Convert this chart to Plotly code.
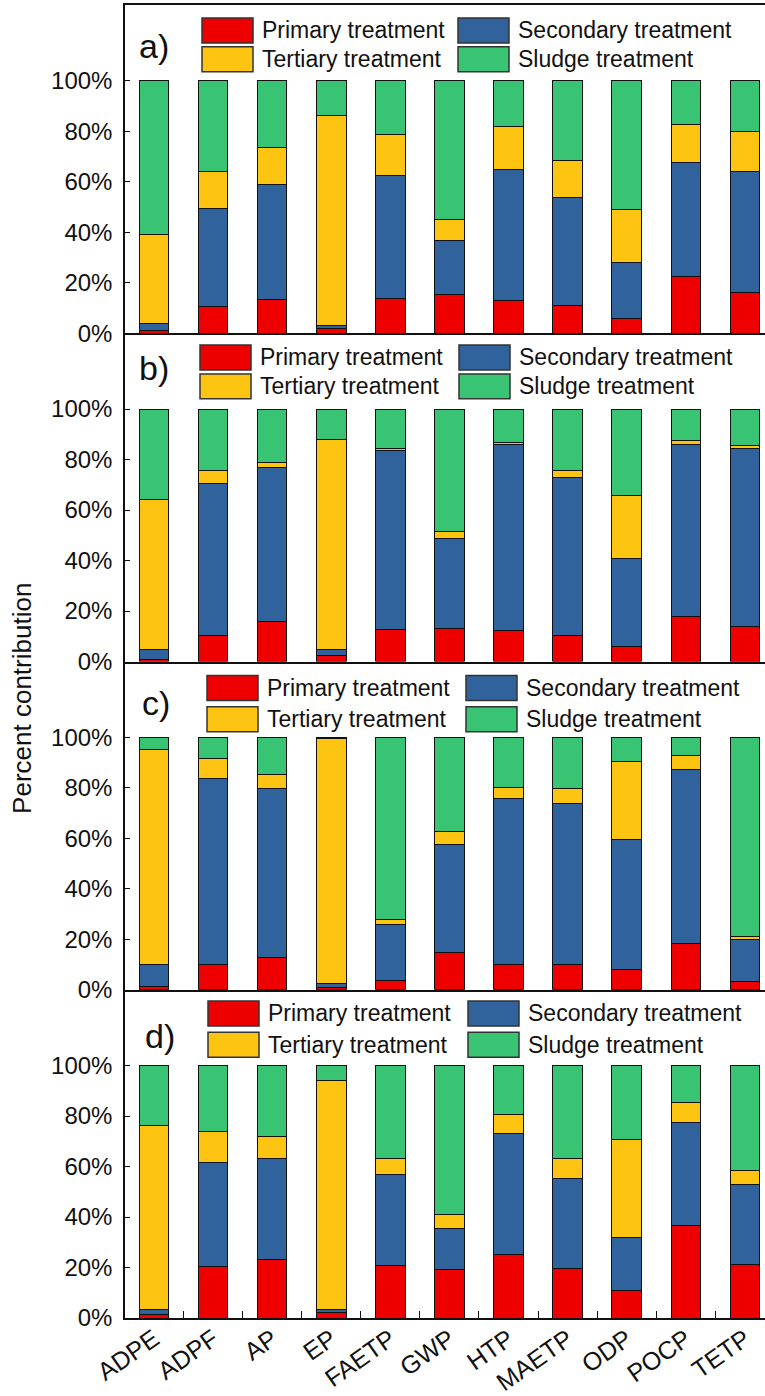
import plotly.graph_objects as go

# ---------------- data ----------------
categories = ["ADPE", "ADPF", "AP", "EP", "FAETP", "GWP", "HTP", "MAETP", "ODP", "POCP", "TETP"]
series_names = ["Primary treatment", "Secondary treatment", "Tertiary treatment", "Sludge treatment"]
panel_labels = ["a)", "b)", "c)", "d)"]
y_ticks = [0, 20, 40, 60, 80, 100]
y_ticktext = ["0%", "20%", "40%", "60%", "80%", "100%"]

# percent contribution of each stage
primary_a   = [0.9, 10.7, 13.3, 2.0, 13.6, 15.4, 12.8, 11.1, 5.9, 22.5, 16.2]
secondary_a = [2.8, 38.9, 45.5, 1.0, 49.0, 21.4, 52.2, 42.6, 22.3, 45.0, 48.0]
tertiary_a  = [35.5, 14.5, 14.9, 83.3, 16.0, 8.2, 16.7, 14.6, 20.7, 15.0, 15.8]
sludge_a    = [60.8, 35.9, 26.3, 13.7, 21.4, 55.0, 18.3, 31.7, 51.1, 17.5, 20.0]

primary_b   = [0.7, 10.4, 15.7, 2.4, 12.6, 13.0, 12.3, 10.4, 5.9, 18.0, 14.0]
secondary_b = [4.2, 60.0, 61.0, 2.2, 70.9, 35.6, 73.5, 62.5, 34.8, 67.8, 70.2]
tertiary_b  = [59.4, 5.4, 2.2, 83.4, 1.0, 2.9, 0.8, 2.6, 25.2, 1.7, 1.4]
sludge_b    = [35.7, 24.2, 21.1, 12.0, 15.5, 48.5, 13.4, 24.5, 34.1, 12.5, 14.4]

primary_c   = [1.3, 10.1, 12.8, 0.9, 3.7, 14.8, 10.0, 10.1, 7.9, 18.3, 3.3]
secondary_c = [8.8, 73.6, 67.0, 1.6, 22.3, 42.6, 65.6, 63.8, 51.7, 68.8, 16.5]
tertiary_c  = [84.9, 7.9, 5.6, 97.0, 1.7, 5.1, 4.5, 5.8, 30.8, 5.5, 1.3]
sludge_c    = [5.0, 8.4, 14.6, 0.5, 72.3, 37.5, 19.9, 20.3, 9.6, 7.4, 78.9]

primary_d   = [1.3, 20.4, 23.3, 2.2, 20.7, 19.1, 25.3, 19.6, 10.9, 36.5, 21.1]
secondary_d = [2.0, 41.3, 39.8, 1.1, 36.3, 16.3, 47.7, 35.5, 20.9, 41.1, 31.6]
tertiary_d  = [73.0, 12.2, 8.8, 90.8, 6.0, 5.4, 7.6, 7.9, 38.7, 7.9, 5.8]
sludge_d    = [23.7, 26.1, 28.1, 5.9, 37.0, 59.2, 19.4, 37.0, 29.5, 14.5, 41.5]

panels = [
    [primary_a, secondary_a, tertiary_a, sludge_a],
    [primary_b, secondary_b, tertiary_b, sludge_b],
    [primary_c, secondary_c, tertiary_c, sludge_c],
    [primary_d, secondary_d, tertiary_d, sludge_d],
]

# ---------------- style ----------------
colors = ["#EE0000", "#30629B", "#FDC511", "#38C472"]
FONT = "Liberation Sans, Arial, sans-serif"
W, H = 765, 1396
ML, MR, MT, MB = 125, 0, 5, 74
PW, PH = W - ML - MR, H - MT - MB

def px_x(px):
    return (px - ML) / PW

def px_y(py):
    return (H - MB - py) / PH

fig = go.Figure()

domains = [[0.75, 1.0], [0.5, 0.75], [0.25, 0.5], [0.0, 0.25]]

for p, vals in enumerate(panels):
    suffix = "" if p == 0 else str(p + 1)
    for s, (name, v) in enumerate(zip(series_names, vals)):
        fig.add_trace(go.Bar(
            x=categories, y=v, name=name,
            marker=dict(color=colors[s], line=dict(color="#111111", width=1)),
            width=0.5, showlegend=False,
            xaxis="x" + suffix, yaxis="y" + suffix,
        ))

layout = dict(
    width=W, height=H, barmode="stack",
    margin=dict(l=ML, r=MR, t=MT, b=MB),
    plot_bgcolor="white", paper_bgcolor="white",
    font=dict(family=FONT, size=24, color="#111111"),
)

for p in range(4):
    suffix = "" if p == 0 else str(p + 1)
    last = p == 3
    layout["xaxis" + suffix] = dict(
        domain=[0, 1], anchor="y" + suffix, type="category",
        range=[-0.49, 10.34],
        showline=True, linecolor="#111111", linewidth=1.5,
        mirror=(p == 0),
        showgrid=False, zeroline=False,
        ticks="inside" if last else "", ticklen=7, tickwidth=1.2, tickcolor="#111111",
        tickson="boundaries",
        showticklabels=last, tickangle=-35,
        ticklabelstandoff=-5,
        tickfont=dict(family=FONT, size=25, color="#111111"),
        fixedrange=True,
    )
    layout["yaxis" + suffix] = dict(
        domain=domains[p], anchor="x" + suffix,
        range=[0, 130],
        tickvals=y_ticks, ticktext=y_ticktext,
        ticks="inside", ticklen=5, tickwidth=1.2, tickcolor="#111111",
        ticklabelstandoff=6,
        showline=True, linecolor="#111111", linewidth=1.5,
        showgrid=False, zeroline=False,
        tickfont=dict(family=FONT, size=24, color="#111111"),
        fixedrange=True,
    )

fig.update_layout(**layout)

# ---------------- in-panel legends and labels ----------------
legend_geo = [
    # col1 swatch x0, col2 swatch x0, row1 center y, row2 center y
    (202, 458, 30.5, 59.5),
    (200, 459, 358.5, 387.5),
    (207, 466, 690, 721.5),
    (208, 468, 1016.5, 1048),
]
label_pos = [(154, 46), (154, 369), (156, 705), (160, 1039)]
SW, SH = 51, 25
order = [(0, 0), (1, 1), (2, 0), (3, 1)]  # (series index, column)
shapes = []
annotations = []
for p in range(4):
    c1, c2, r1, r2 = legend_geo[p]
    for s, col in order:
        x0 = c1 if col == 0 else c2
        yc = r1 if s < 2 else r2
        shapes.append(dict(
            type="rect", xref="paper", yref="paper",
            x0=px_x(x0), x1=px_x(x0 + SW),
            y0=px_y(yc + SH / 2), y1=px_y(yc - SH / 2),
            fillcolor=colors[s], line=dict(color="#333333", width=1.5),
        ))
        annotations.append(dict(
            xref="paper", yref="paper", x=px_x(x0 + SW + 7), y=px_y(yc),
            xanchor="left", yanchor="middle", showarrow=False,
            text=series_names[s],
            font=dict(family=FONT, size=23, color="#111111"),
        ))
    lx, ly = label_pos[p]
    annotations.append(dict(
        xref="paper", yref="paper", x=px_x(lx), y=px_y(ly),
        xanchor="center", yanchor="middle", showarrow=False,
        text=panel_labels[p],
        font=dict(family=FONT, size=34, color="#111111"),
    ))

annotations.append(dict(
    xref="paper", yref="paper", x=px_x(22), y=px_y(701),
    xanchor="center", yanchor="middle", showarrow=False,
    text="Percent contribution", textangle=-90,
    font=dict(family=FONT, size=26, color="#111111"),
))

fig.update_layout(shapes=shapes, annotations=annotations)

fig.write_html("out.html", config={"displayModeBar": False},
               post_script="document.body.style.margin='0px';")
